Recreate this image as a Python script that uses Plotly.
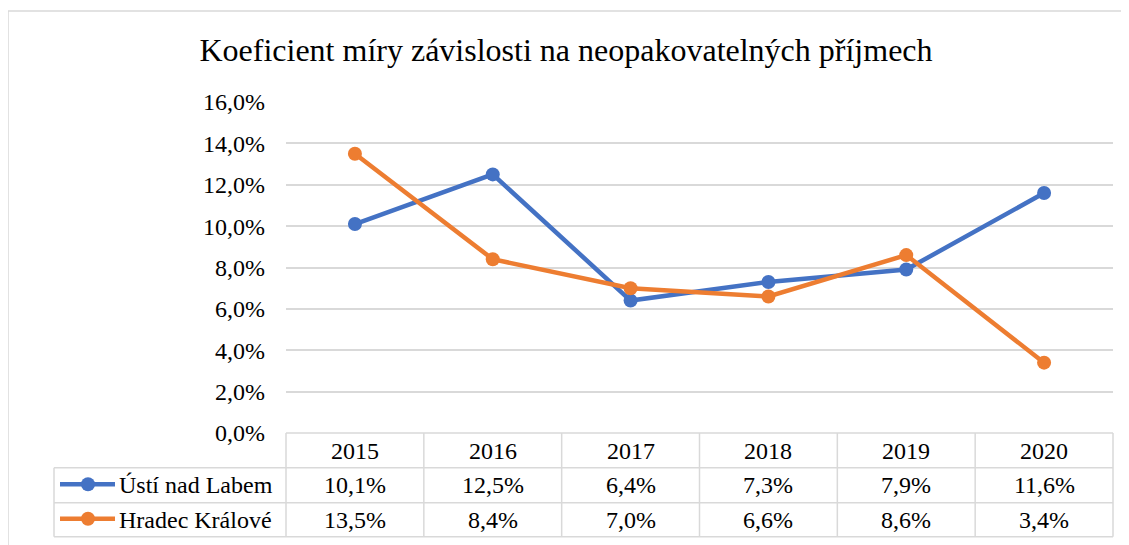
import plotly.graph_objects as go

# ---- data ----
years = ["2015", "2016", "2017", "2018", "2019", "2020"]
series_names = ["Ústí nad Labem", "Hradec Králové"]
usti = [10.1, 12.5, 6.4, 7.3, 7.9, 11.6]
hradec = [13.5, 8.4, 7.0, 6.6, 8.6, 3.4]
colors = ["#4472C4", "#ED7D31"]
title_text = "Koeficient míry závislosti na neopakovatelných příjmech"

W, H = 1129, 545
OFF = 8  # page body margin offset
L, R, T, B = 286 - OFF, 1113 - OFF, 102 - OFF, 433 - OFF
PH = B - T
PW = R - L
FONT = "Liberation Serif"
GRID = "#D9D9D9"


def py(p):  # reference pixel y -> paper y
    return (B - (p - OFF)) / PH


def px(p):  # reference pixel x -> paper x
    return ((p - OFF) - L) / PW


fig = go.Figure()
for name, vals, col in zip(series_names, [usti, hradec], colors):
    fig.add_trace(go.Scatter(
        x=years, y=vals, name=name, mode="lines+markers",
        line=dict(color=col, width=4.5),
        marker=dict(color=col, size=14),
        showlegend=False,
    ))

shapes = []
line_style = dict(color=GRID, width=1.5)
# outer chart frame
shapes.append(dict(type="rect", xref="paper", yref="paper",
                   x0=px(8), x1=px(1145), y0=py(570), y1=py(11),
                   line=dict(color=GRID, width=1.5), fillcolor="rgba(0,0,0,0)"))
# table horizontal lines
rows_y = [467.7, 502.7, 536.7]
shapes.append(dict(type="line", xref="paper", yref="paper", x0=0, x1=1, y0=0, y1=0, line=line_style))
for ry in rows_y:
    shapes.append(dict(type="line", xref="paper", yref="paper", x0=px(54), x1=1,
                       y0=py(ry), y1=py(ry), line=line_style))
# vertical lines
n = len(years)
for i in range(n + 1):
    shapes.append(dict(type="line", xref="paper", yref="paper", x0=i / n, x1=i / n,
                       y0=0, y1=py(rows_y[-1]), line=line_style))
shapes.append(dict(type="line", xref="paper", yref="paper", x0=px(54), x1=px(54),
                   y0=py(rows_y[0]), y1=py(rows_y[-1]), line=line_style))

annotations = []
tfont = dict(family=FONT, size=24, color="#000000")
header_y = 450.5
row_centers = [485.2, 519.7]
for i, yr in enumerate(years):
    annotations.append(dict(x=(i + 0.5) / n, y=py(header_y), xref="paper", yref="paper", text=yr,
                            showarrow=False, font=tfont, xanchor="center", yanchor="middle"))
for rc, vals, name, col in zip(row_centers, [usti, hradec], series_names, colors):
    for i, v in enumerate(vals):
        annotations.append(dict(x=(i + 0.5) / n, y=py(rc), xref="paper", yref="paper",
                                text=f"{v:.1f}%".replace(".", ","),
                                showarrow=False, font=tfont, xanchor="center", yanchor="middle"))
    # legend key
    shapes.append(dict(type="line", xref="paper", yref="paper", x0=px(60), x1=px(115),
                       y0=py(rc - 1), y1=py(rc - 1), line=dict(color=col, width=4.5)))
    shapes.append(dict(type="circle", xref="paper", yref="paper",
                       x0=px(88 - 7), x1=px(88 + 7), y0=py(rc - 1 + 7), y1=py(rc - 1 - 7),
                       fillcolor=col, line=dict(color=col, width=0)))
    annotations.append(dict(x=px(117), y=py(rc), xref="paper", yref="paper", text=name,
                            showarrow=False, font=tfont, xanchor="left", yanchor="middle"))

fig.update_layout(
    width=W, height=H, autosize=False,
    margin=dict(l=L, r=W - R, t=T, b=H - B, pad=0),
    paper_bgcolor="white", plot_bgcolor="white",
    separators=", ",
    title=dict(text=title_text, x=(566 - OFF) / W, xref="container", xanchor="center",
               y=1 - (50 - OFF) / H, yref="container", yanchor="middle",
               font=dict(family=FONT, size=32, color="#000000")),
    xaxis=dict(type="category", range=[-0.5, n - 0.5], showticklabels=False,
               showgrid=False, zeroline=False, showline=False, ticks=""),
    yaxis=dict(range=[0, 16], dtick=2, tick0=0, tickformat=".1f", ticksuffix="%",
               showgrid=True, gridcolor=GRID, gridwidth=1.5, zeroline=False,
               showline=False, ticks="", ticklabelstandoff=20,
               tickfont=dict(family=FONT, size=24, color="#000000")),
    shapes=shapes, annotations=annotations,
    showlegend=False,
)

fig.write_html("out.html")
